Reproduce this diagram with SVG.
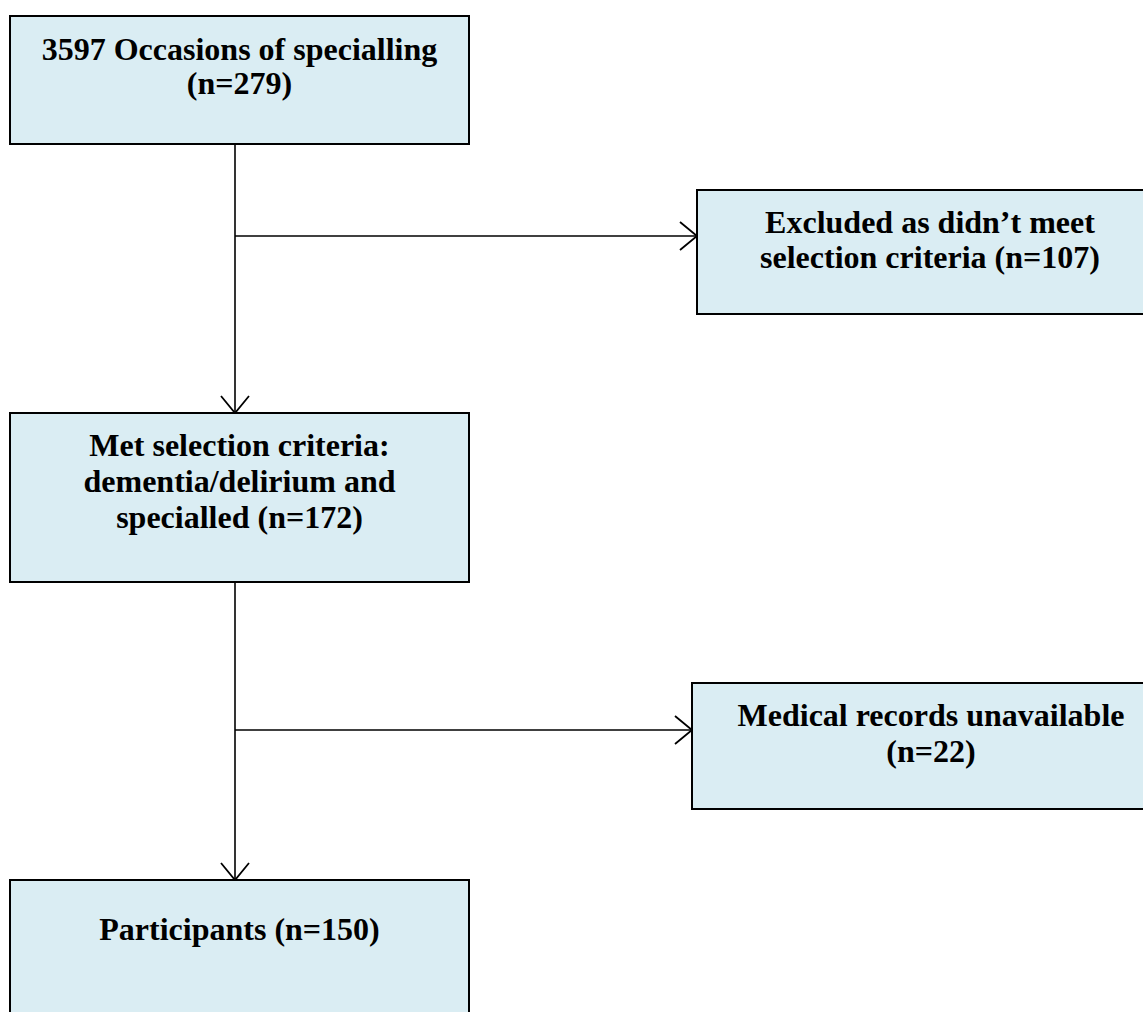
<svg xmlns="http://www.w3.org/2000/svg" width="1143" height="1012" viewBox="0 0 1143 1012">
<style>
.box{fill:#daedf3;stroke:#000;stroke-width:2}
.t{font-family:"Liberation Serif","Times New Roman",serif;font-weight:bold;font-size:32px;fill:#000;text-anchor:middle}
.c{fill:none;stroke:#000;stroke-width:1.6}
</style>
<defs>
<marker id="arr" markerWidth="20" markerHeight="32" refX="18" refY="16" orient="auto" markerUnits="userSpaceOnUse">
<path d="M1,2 L18,16 L1,30" fill="none" stroke="#000" stroke-width="1.8"/>
</marker>
</defs>
<rect width="1143" height="1012" fill="#fff"/>
<g id="connectors">
<line class="c" x1="235" y1="144" x2="235" y2="413" marker-end="url(#arr)"/>
<line class="c" x1="235" y1="236" x2="697" y2="236" marker-end="url(#arr)"/>
<line class="c" x1="235" y1="582" x2="235" y2="880" marker-end="url(#arr)"/>
<line class="c" x1="235" y1="730" x2="692" y2="730" marker-end="url(#arr)"/>
</g>
<g id="n1">
<rect class="box" x="10" y="16" width="459" height="128"/>
<text class="t" x="239.5" y="60">3597 Occasions of specialling</text>
<text class="t" x="239.5" y="94">(n=279)</text>
</g>
<g id="n2">
<rect class="box" x="697" y="190" width="470" height="124"/>
<text class="t" x="930" y="233">Excluded as didn’t meet</text>
<text class="t" x="930" y="268">selection criteria (n=107)</text>
</g>
<g id="n3">
<rect class="box" x="10" y="413" width="459" height="169"/>
<text class="t" x="239.5" y="456">Met selection criteria:</text>
<text class="t" x="239.5" y="492">dementia/delirium and</text>
<text class="t" x="239.5" y="528">specialled (n=172)</text>
</g>
<g id="n4">
<rect class="box" x="692" y="683" width="478" height="126"/>
<text class="t" x="931" y="726">Medical records unavailable</text>
<text class="t" x="931" y="762">(n=22)</text>
</g>
<g id="n5">
<rect class="box" x="10" y="880" width="459" height="140"/>
<text class="t" x="239.5" y="940">Participants (n=150)</text>
</g>
</svg>
